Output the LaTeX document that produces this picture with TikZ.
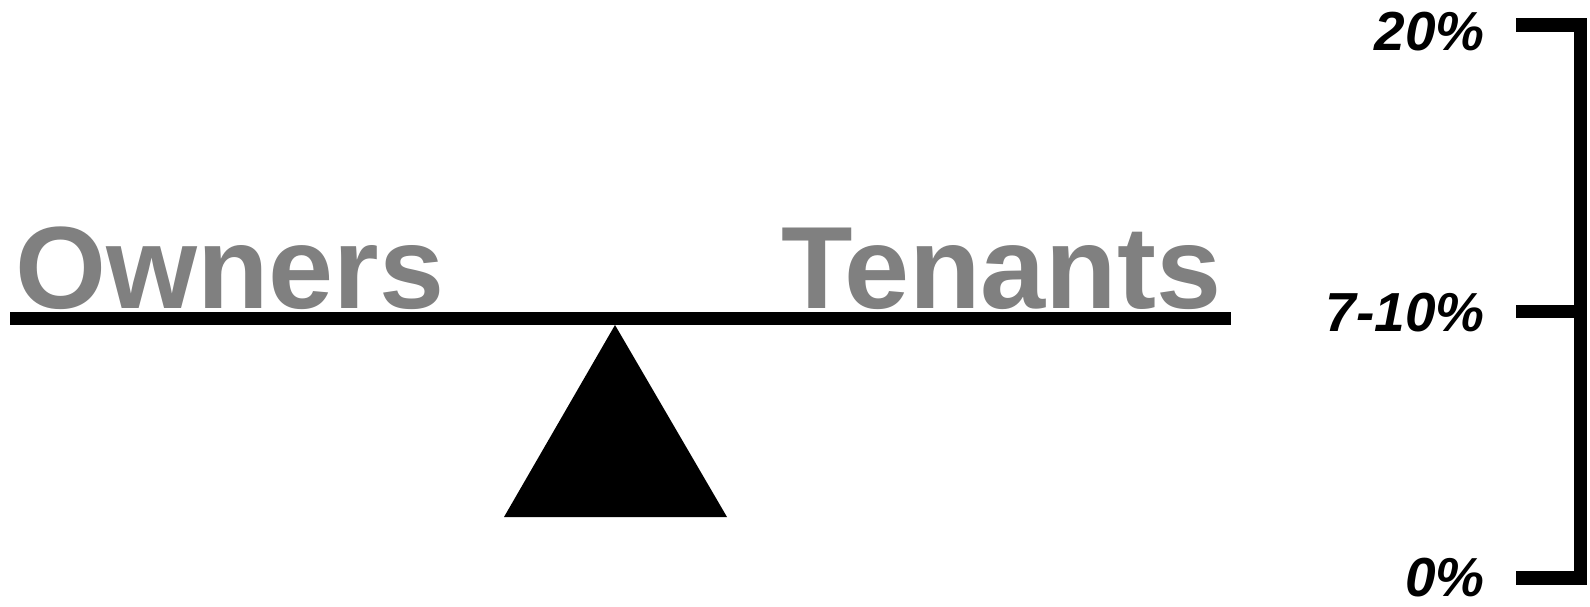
\documentclass[tikz,border=0pt]{standalone}
\usepackage{fontspec}
\setmainfont{Liberation Sans}
\definecolor{labelgray}{RGB}{128,128,128}
\begin{document}
\begin{tikzpicture}[x=1pt,y=-1pt,
  side/.style={inner sep=0pt, anchor=base west, text=labelgray,
    font=\fontsize{117}{117}\selectfont\bfseries},
  pct/.style={inner sep=0pt, anchor=base east, text depth=0pt,
    font=\fontsize{55}{55}\selectfont\bfseries\itshape},
  bar/.style={line width=13.5pt}]
\useasboundingbox (0,0) rectangle (1590,606);
% seesaw beam and fulcrum
\fill (10,311.5) rectangle (1231,325);
\fill (615,325) -- (727,517) -- (504,517) -- cycle;
% side labels
\node[side] (own) at (15,308) {Owners};
\node[side] (ten) at (781,308) {Tenants};
% scale bracket
\coordinate (top) at (1516,25);
\coordinate (mid) at (1516,311.5);
\coordinate (bot) at (1516,578);
\draw[bar] (top) -- (1580.5,25) -- (1580.5,578) -- (bot);
\draw[bar] (mid) -- (1580.5,311.5);
% scale labels
\node[pct] (p20) at (1485,50) {20\%};
\node[pct] (p7) at (1485,331) {7-10\%};
\node[pct] (p0) at (1485,596) {0\%};
\end{tikzpicture}
\end{document}
